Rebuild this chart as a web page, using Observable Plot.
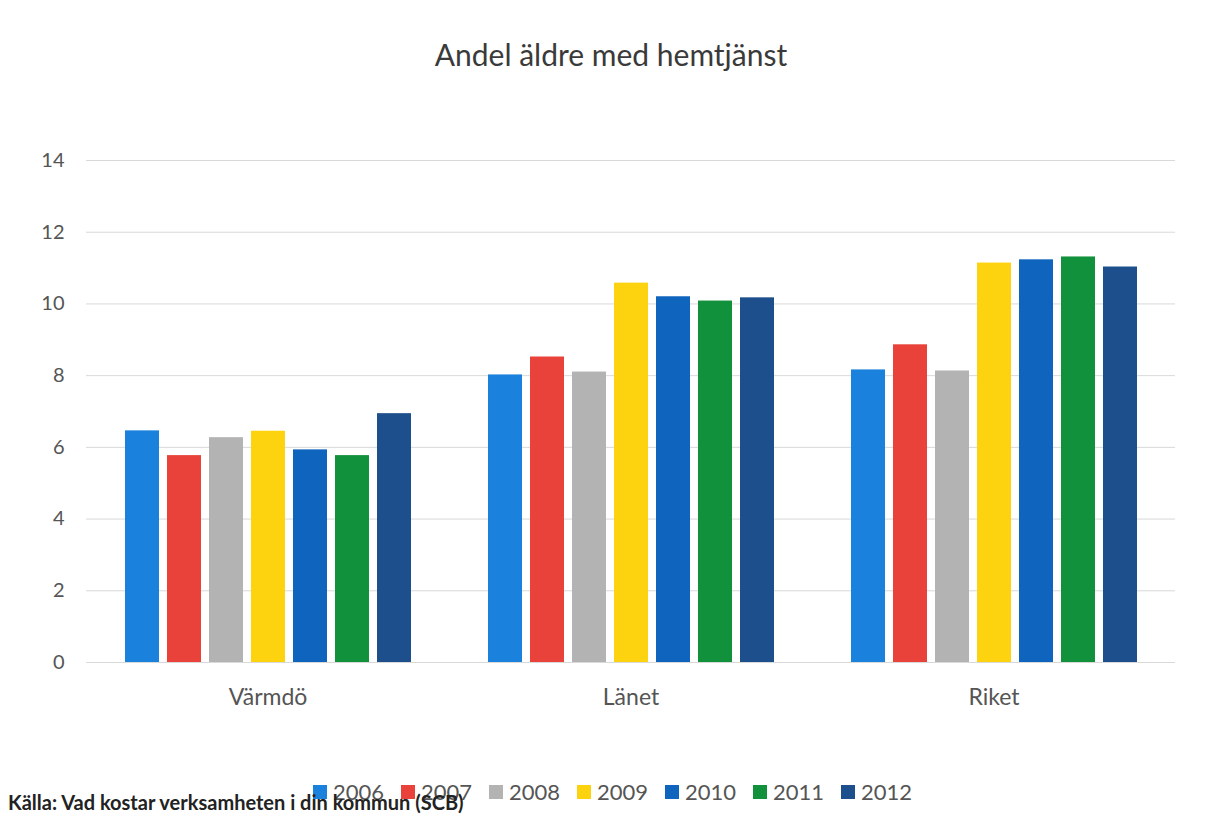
<!DOCTYPE html>
<html>
<head>
<meta charset="utf-8">
<script src="https://cdn.jsdelivr.net/npm/d3@7"></script>
<script src="https://cdn.jsdelivr.net/npm/@observablehq/plot@0.6"></script>
<style>
  html, body { margin: 0; padding: 0; background: #fff; }
  #wrap { position: relative; width: 1209px; height: 828px; font-family: Lato, "Open Sans", sans-serif; overflow: hidden; }
  #title { position: absolute; top: 36px; left: 0; width: 1222px; text-align: center; font-size: 30px; color: #3a3a3a; }
  #chart { position: absolute; top: 100px; left: 0; }
  #legend { position: absolute; top: 778px; left: 313px; display: flex; font-size: 22px; color: #555; }
  #legend .item { display: flex; align-items: center; width: 88px; }
  #legend .sw { width: 14px; height: 14px; margin-right: 6px; }
  #caption { position: absolute; top: 790px; left: 8px; font-size: 20px; font-weight: bold; color: #222; }
</style>
</head>
<body>
<div id="wrap">
  <div id="title">Andel äldre med hemtjänst</div>
  <div id="chart"></div>
  <div id="legend"></div>
  <div id="caption">Källa: Vad kostar verksamheten i din kommun (SCB)</div>
</div>
<script>
const regions = ["Värmdö", "Länet", "Riket"];
const years = ["2006", "2007", "2008", "2009", "2010", "2011", "2012"];
const varmdo = [6.46, 5.77, 6.27, 6.45, 5.93, 5.77, 6.94];
const lanet = [8.02, 8.52, 8.10, 10.58, 10.20, 10.08, 10.17];
const riket = [8.16, 8.86, 8.13, 11.14, 11.23, 11.31, 11.03];
const colors = ["#1a82dc", "#e8423a", "#b3b3b3", "#fdd30f", "#0f64be", "#12913c", "#1c4f8c"];
const yTicks = [0, 2, 4, 6, 8, 10, 12, 14];

const series = [varmdo, lanet, riket];
const data = [];
regions.forEach((r, i) => years.forEach((y, j) => data.push({region: r, year: y, value: series[i][j]})));

const chart = Plot.plot({
  width: 1209,
  height: 640,
  marginLeft: 85,
  marginRight: 34,
  marginTop: 60,
  marginBottom: 78,
  style: {fontFamily: "Lato, 'Open Sans', sans-serif", fontSize: "20px", color: "#555", background: "transparent"},
  fx: {domain: regions, padding: 0, label: null, axis: null},
  x: {domain: years, paddingInner: 0.2, paddingOuter: 0.86, axis: null},
  y: {domain: [0, 14], ticks: yTicks, label: null, axis: null},
  color: {domain: years, range: colors},
  marks: [
    Plot.gridY(yTicks, {stroke: "#d9d9d9", strokeOpacity: 1, strokeWidth: 1}),
    Plot.barY(data, {fx: "region", x: "year", y: "value", fill: "year"}),
    Plot.axisFx({anchor: "bottom", tickSize: 0, tickPadding: 26, label: null, fontSize: 23}),
    Plot.axisY(yTicks, {tickSize: 0, tickPadding: 22, label: null, fontSize: 20})
  ]
});
document.getElementById("chart").appendChild(chart);

const legend = document.getElementById("legend");
years.forEach((y, i) => {
  const it = document.createElement("div");
  it.className = "item";
  const sw = document.createElement("div");
  sw.className = "sw";
  sw.style.background = colors[i];
  const t = document.createElement("span");
  t.textContent = y;
  it.appendChild(sw);
  it.appendChild(t);
  legend.appendChild(it);
});
</script>
</body>
</html>
